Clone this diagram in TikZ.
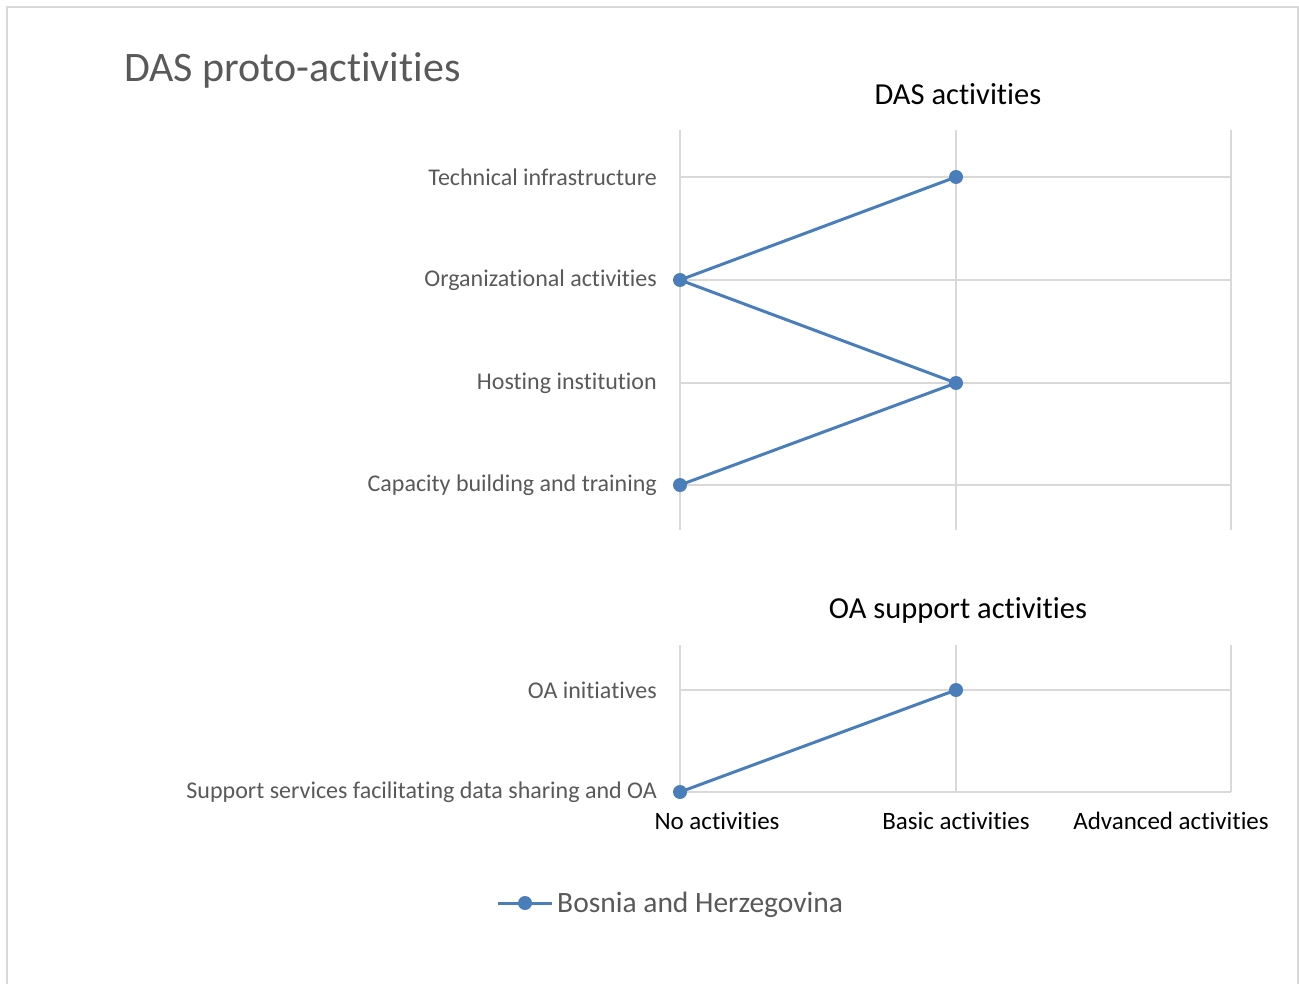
\documentclass[tikz,border=0pt]{standalone}
\usepackage{fontspec}
\setmainfont{Carlito}[Ligatures=NoCommon,RawFeature=-calt]
\definecolor{series}{RGB}{74,126,187}
\definecolor{gridc}{RGB}{217,217,217}
\definecolor{labc}{RGB}{89,89,89}
\tikzset{
  grid/.style={draw=gridc, line width=1.5pt},
  serie/.style={draw=series, line width=3pt},
  pt/.style={circle, fill=series, inner sep=0pt, minimum size=14pt},
  cat/.style={anchor=east, text=labc, font=\fontsize{24}{28}\selectfont, inner sep=0pt},
  axl/.style={anchor=center, text=black, font=\fontsize{25}{29}\selectfont, inner sep=0pt},
  ttl/.style={anchor=center, text=black, font=\fontsize{30.5}{34}\selectfont, inner sep=0pt}
}
\begin{document}
\begin{tikzpicture}[x=1pt,y=-1pt]
\useasboundingbox (0,0) rectangle (1299,984);
\draw[gridc, line width=2pt] (7,996) -- (7,7) -- (1298,7) -- (1298,996);
\node[anchor=west, text=labc, font=\fontsize{42}{46}\selectfont, inner sep=0pt] (title) at (124,70) {DAS proto-activities};
% top chart
\node[ttl] (t1) at (958,94) {DAS activities};
\foreach \x in {680,956,1231} \draw[grid] (\x,130) -- (\x,530);
\foreach \y in {177,280,383,485} \draw[grid] (680,\y) -- (1231,\y);
\node[cat] (l1) at (657,177) {Technical infrastructure};
\node[cat] (l2) at (657,280) {Organizational activities};
\node[cat] (l3) at (657,383) {Hosting institution};
\node[cat] (l4) at (657,485) {Capacity building and training};
\node[pt] (p1) at (956,177) {};
\node[pt] (p2) at (680,280) {};
\node[pt] (p3) at (956,383) {};
\node[pt] (p4) at (680,485) {};
\draw[serie] (p1.center) -- (p2.center) -- (p3.center) -- (p4.center);
% bottom chart
\node[ttl] (t2) at (958,610) {OA support activities};
\foreach \x in {680,956,1231} \draw[grid] (\x,645) -- (\x,792);
\foreach \y in {690,792} \draw[grid] (680,\y) -- (1231,\y);
\node[cat] (m1) at (657,690) {OA initiatives};
\node[cat] (m2) at (657,792) {Support services facilitating data sharing and OA};
\node[pt] (q1) at (956,690) {};
\node[pt] (q2) at (680,792) {};
\draw[serie] (q1.center) -- (q2.center);
\node[axl] (a1) at (717,821) {No activities};
\node[axl] (a2) at (956,821) {Basic activities};
\node[axl] (a3) at (1171,821) {Advanced activities};
% legend
\coordinate (lg1) at (498,903);
\coordinate (lg2) at (552,903);
\draw[serie] (lg1) -- (lg2);
\node[pt] (lgp) at (525,903) {};
\node[anchor=west, text=labc, font=\fontsize{29.5}{33}\selectfont, inner sep=0pt] (lgt) at (557,905) {Bosnia and Herzegovina};
\end{tikzpicture}
\end{document}
